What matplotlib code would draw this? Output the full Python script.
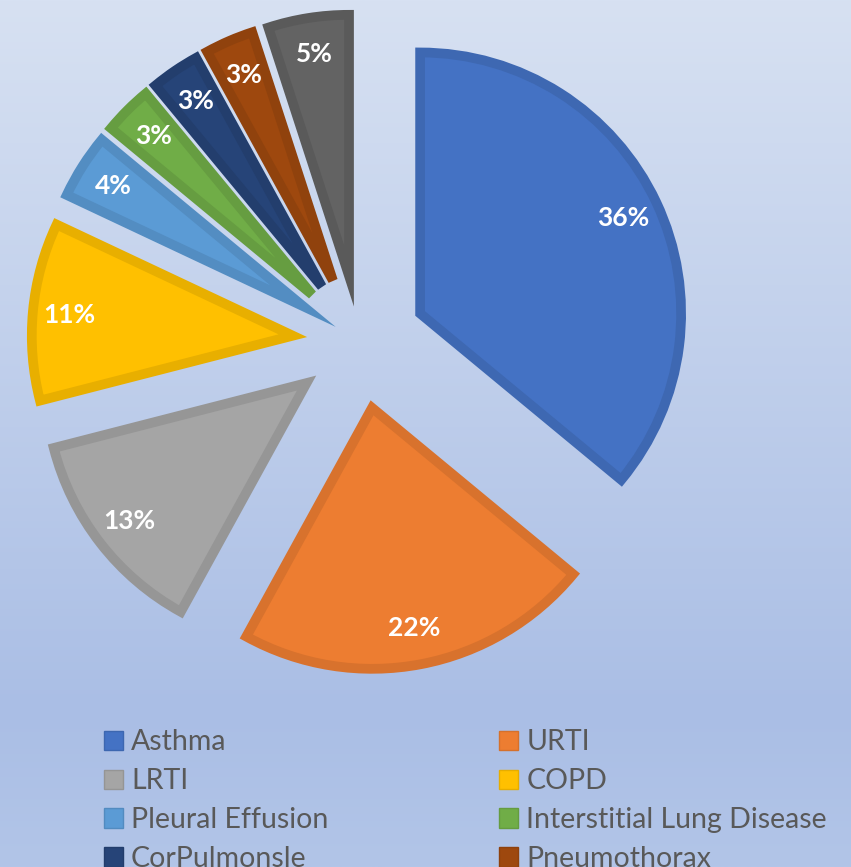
import numpy as np
import matplotlib
matplotlib.use("Agg")
import matplotlib.pyplot as plt
from matplotlib.patches import Patch
from matplotlib.colors import to_rgb

categories = ["Asthma", "URTI", "LRTI", "COPD", "Pleural Effusion",
              "Interstitial Lung Disease", "CorPulmonsle", "Pneumothorax", "Others"]
shares = [36, 22, 13, 11, 4, 3, 3, 3, 5]
colors = ["#4472C4", "#ED7D31", "#A5A5A5", "#FFC000", "#5B9BD5",
          "#70AD47", "#264478", "#9E480E", "#636363"]

W, H = 851, 867
fig = plt.figure(figsize=(W / 100, H / 100), dpi=100)
ax = fig.add_axes([0, 0, 1, 1])

# background gradient (light at top, darker towards the legend)
top = np.array(to_rgb("#D7E1F2"))
mid = np.array(to_rgb("#AABEE5"))
bot = np.array(to_rgb("#B2C5E8"))
t = np.linspace(0, 1, 300)[:, None]
grad = np.where(t < 0.82, top + (mid - top) * (t / 0.82), mid + (bot - mid) * ((t - 0.82) / 0.18))
ax.imshow(grad[:, None, :], extent=[0, W, 0, H], aspect="auto", zorder=0)

radius = 261
wedges, texts, autotexts = ax.pie(
    shares, colors=colors, radius=radius, center=(359.5, H - 342),
    startangle=90, counterclock=False, explode=[67] * len(shares),
    autopct="%1.0f%%", pctdistance=0.86,
    wedgeprops=dict(linewidth=7, joinstyle="miter"),
    textprops=dict(color="white", fontsize=19, fontweight="bold", family="Lato"))

for w, c in zip(wedges, colors):
    w.set_edgecolor(np.array(to_rgb(c)) * 0.91)
    w.set_zorder(2)
for a in autotexts:
    a.set_zorder(3)

ax.set_xlim(0, W)
ax.set_ylim(0, H)
ax.set_axis_off()

# legend filled row by row like the original (2 columns)
handles = [Patch(facecolor=c, edgecolor=np.array(to_rgb(c)) * 0.9, linewidth=1) for c in colors]
order = [0, 2, 4, 6, 8, 1, 3, 5, 7]
fig.legend([handles[i] for i in order], [categories[i] for i in order],
           ncol=2, loc="upper left", bbox_to_anchor=(92.5 / W, 1 - 718 / H),
           frameon=False, labelcolor="#595959",
           prop=dict(family="Lato", size=20.5),
           handlelength=0.67, handleheight=0.67, handletextpad=0.28,
           labelspacing=0.45, columnspacing=6.0, borderaxespad=0)

fig.savefig("out.png", dpi=100)
